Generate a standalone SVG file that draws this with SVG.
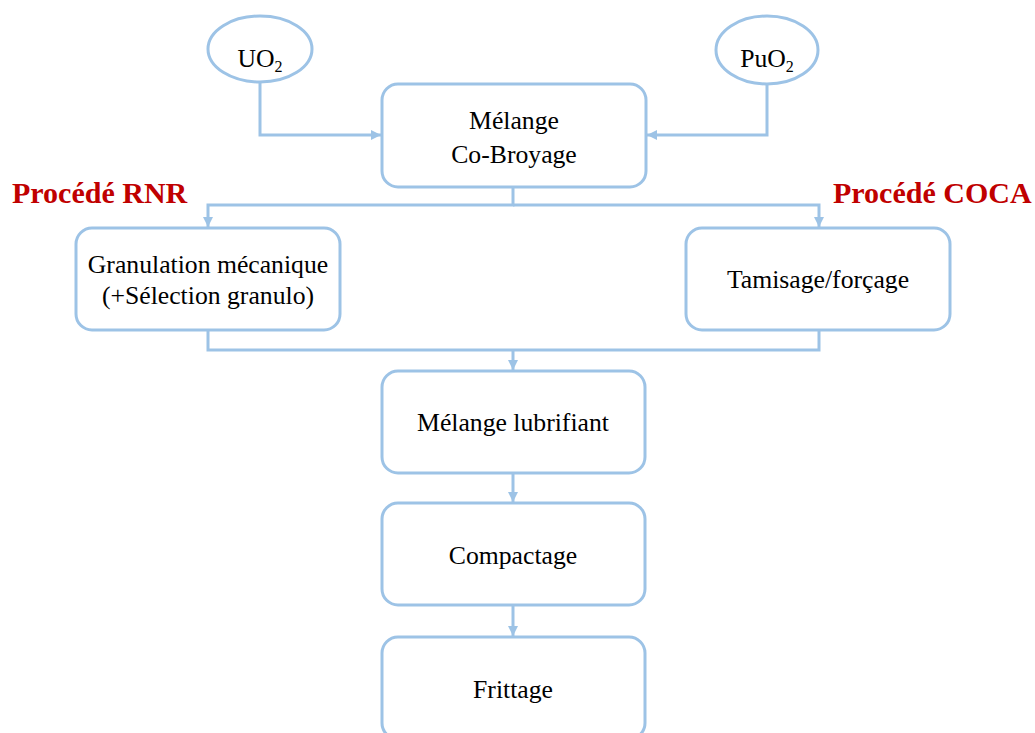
<svg xmlns="http://www.w3.org/2000/svg" width="1035" height="733" viewBox="0 0 1035 733">
<style>
.box{fill:#fff;stroke:#9DC3E6;stroke-width:3}
.ln{fill:none;stroke:#9DC3E6;stroke-width:3}
.t{font-family:'Liberation Serif',serif;font-size:25.7px;fill:#000;text-anchor:middle}
.r{font-family:'Liberation Serif',serif;font-size:30px;font-weight:bold;fill:#C00000}
</style>
<defs>
<marker id="a" viewBox="0 0 10 10" refX="10" refY="5" markerWidth="10" markerHeight="10" markerUnits="userSpaceOnUse" orient="auto">
<path d="M0,0 L10,5 L0,10 z" fill="#9DC3E6"/>
</marker>
</defs>
<rect width="1035" height="733" fill="#fff"/>
<g id="connectors">
<path class="ln" d="M260,82 V135 H381" marker-end="url(#a)"/>
<path class="ln" d="M767,84 V135 H647" marker-end="url(#a)"/>
<path class="ln" d="M513,187 V205 H208 V227" marker-end="url(#a)"/>
<path class="ln" d="M513,205 H819 V227" marker-end="url(#a)"/>
<path class="ln" d="M208,330 V350 H819 V330"/>
<path class="ln" d="M513,350 V370" marker-end="url(#a)"/>
<path class="ln" d="M513,473 V502" marker-end="url(#a)"/>
<path class="ln" d="M513,605 V636" marker-end="url(#a)"/>
</g>
<g id="uo2">
<ellipse class="box" cx="260" cy="49" rx="52" ry="33"/>
<text class="t" x="260" y="67">UO<tspan font-size="16" dy="5">2</tspan></text>
</g>
<g id="puo2">
<ellipse class="box" cx="767" cy="50" rx="51" ry="34"/>
<text class="t" x="767" y="67">PuO<tspan font-size="16" dy="5">2</tspan></text>
</g>
<g id="melange">
<rect class="box" x="382" y="84" width="264" height="103" rx="16"/>
<text class="t" x="514" y="129">Mélange</text>
<text class="t" x="514" y="163">Co-Broyage</text>
</g>
<g id="label-rnr"><text class="r" x="12" y="203">Procédé RNR</text></g>
<g id="label-coca"><text class="r" x="833" y="203">Procédé COCA</text></g>
<g id="granulation">
<rect class="box" x="76" y="228" width="264" height="102" rx="16"/>
<text class="t" x="208" y="273">Granulation mécanique</text>
<text class="t" x="208" y="304">(+Sélection granulo)</text>
</g>
<g id="tamisage">
<rect class="box" x="686" y="228" width="264" height="102" rx="16"/>
<text class="t" x="818" y="288">Tamisage/forçage</text>
</g>
<g id="lubrifiant">
<rect class="box" x="382" y="371" width="263" height="102" rx="16"/>
<text class="t" x="513" y="431">Mélange lubrifiant</text>
</g>
<g id="compactage">
<rect class="box" x="382" y="503" width="263" height="102" rx="16"/>
<text class="t" x="513" y="564">Compactage</text>
</g>
<g id="frittage">
<rect class="box" x="382" y="637" width="263" height="102" rx="16"/>
<text class="t" x="513" y="698">Frittage</text>
</g>
</svg>
